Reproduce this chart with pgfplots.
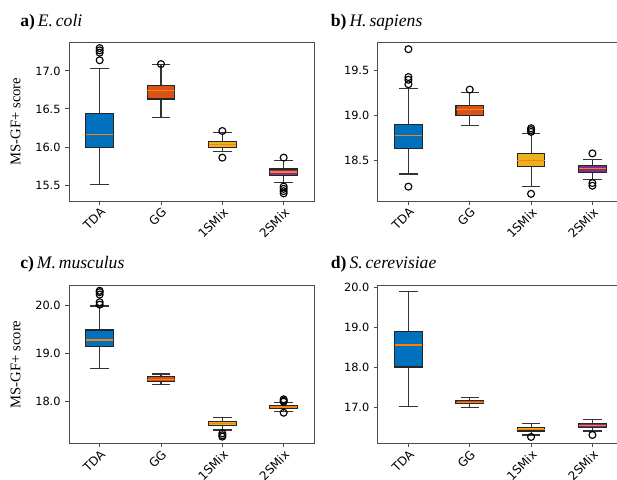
\documentclass[border=0pt]{standalone}
\usepackage{fontspec}
\setmainfont{Liberation Serif}
\newfontfamily\djv{DejaVu Sans}
\usepackage{pgfplots}
\pgfplotsset{compat=1.18}
\usepgfplotslibrary{statistics}

\definecolor{cTDA}{HTML}{0072BD}
\definecolor{cGG}{HTML}{D95319}
\definecolor{cOne}{HTML}{EDB120}
\definecolor{cTwo}{HTML}{7E2F8E}
\definecolor{cMed}{HTML}{FF7F0E}

\pgfplotsset{
  panel/.style={
    anchor=north west, scale only axis,
    width=184pt, height=119.25pt,
    xmin=0.5, xmax=4.5,
    boxplot/draw direction=y,
    xtick={1,2,3,4}, xticklabels={TDA,GG,1SMix,2SMix},
    axis line style={black!70, line width=0.7pt},
    tick style={black!70, line width=0.7pt},
    tick align=outside, tick pos=left,
    major tick length=2.8pt,
    x tick label style={rotate=45, anchor=north east, font=\djv\fontsize{9}{10}\selectfont, inner sep=1pt},
    y tick label style={font=\djv\fontsize{8.5}{10}\selectfont},
    /pgf/number format/assume math mode=true,
    yticklabel style={/pgf/number format/.cd, fixed, fixed zerofill, precision=1},
    every axis y label/.style={at={(axis description cs:0,0.5)}, xshift=-40pt, rotate=90,
      anchor=center, font=\fontsize{11}{13}\selectfont},
  },
  bx/.style={
    solid, draw=black, line width=0.85pt,
    mark=o, mark size=2.6pt, mark options={draw=black, fill=none, line width=0.85pt},
    boxplot/box extend=0.45,
    boxplot/whisker extend=0.3,
    boxplot/every box/.style={draw=black!85, fill=#1, line width=0.85pt},
    boxplot/every median/.style={draw=cMed, line width=1pt},
    boxplot/every whisker/.style={draw=black!80, line width=0.85pt},
  },
}

\begin{document}
\begin{tikzpicture}

% a) E. coli
\begin{axis}[panel, at={(51.75pt,-31.5pt)}, ymin=15.29, ymax=17.38,
  ytick={15.5,16,16.5,17}, ylabel={MS-GF+ score}]
\addplot[bx=cTDA, boxplot prepared={draw position=1, lower whisker=15.51, lower quartile=15.99,
  median=16.16, upper quartile=16.44, upper whisker=17.035}]
  coordinates {(0,17.14) (0,17.24) (0,17.27) (0,17.30)};
\addplot[bx=cGG, boxplot prepared={draw position=2, lower whisker=16.39, lower quartile=16.63,
  median=16.74, upper quartile=16.81, upper whisker=17.08}]
  coordinates {(0,17.09)};
\addplot[bx=cOne, boxplot prepared={draw position=3, lower whisker=15.94, lower quartile=15.99,
  median=16.035, upper quartile=16.075, upper whisker=16.19}]
  coordinates {(0,16.21) (0,15.86)};
\addplot[bx=cTwo, boxplot prepared={draw position=4, lower whisker=15.53, lower quartile=15.62,
  median=15.67, upper quartile=15.71, upper whisker=15.82}]
  coordinates {(0,15.86) (0,15.48) (0,15.45) (0,15.42) (0,15.39)};
\end{axis}

% b) H. sapiens
\begin{axis}[panel, at={(283.3pt,-31.5pt)}, ymin=18.05, ymax=19.82,
  ytick={18.5,19,19.5}]
\addplot[bx=cTDA, boxplot prepared={draw position=1, lower whisker=18.35, lower quartile=18.63,
  median=18.78, upper quartile=18.90, upper whisker=19.30}]
  coordinates {(0,19.74) (0,19.43) (0,19.40) (0,19.35) (0,18.21)};
\addplot[bx=cGG, boxplot prepared={draw position=2, lower whisker=18.89, lower quartile=19.00,
  median=19.07, upper quartile=19.11, upper whisker=19.26}]
  coordinates {(0,19.29)};
\addplot[bx=cOne, boxplot prepared={draw position=3, lower whisker=18.21, lower quartile=18.43,
  median=18.50, upper quartile=18.58, upper whisker=18.80}]
  coordinates {(0,18.86) (0,18.84) (0,18.82) (0,18.13)};
\addplot[bx=cTwo, boxplot prepared={draw position=4, lower whisker=18.29, lower quartile=18.37,
  median=18.41, upper quartile=18.45, upper whisker=18.51}]
  coordinates {(0,18.58) (0,18.25) (0,18.22)};
\end{axis}

% c) M. musculus
\begin{axis}[panel, at={(51.75pt,-214.1pt)}, height=118.4pt, ymin=17.12, ymax=20.42,
  ytick={18,19,20}, ylabel={MS-GF+ score}]
\addplot[bx=cTDA, boxplot prepared={draw position=1, lower whisker=18.69, lower quartile=19.15,
  median=19.28, upper quartile=19.49, upper whisker=19.99}]
  coordinates {(0,20.02) (0,20.07) (0,20.23) (0,20.28) (0,20.31)};
\addplot[bx=cGG, boxplot prepared={draw position=2, lower whisker=18.35, lower quartile=18.42,
  median=18.46, upper quartile=18.51, upper whisker=18.57}]
  coordinates {};
\addplot[bx=cOne, boxplot prepared={draw position=3, lower whisker=17.40, lower quartile=17.49,
  median=17.53, upper quartile=17.57, upper whisker=17.66}]
  coordinates {(0,17.33) (0,17.29) (0,17.26)};
\addplot[bx=cTwo, boxplot prepared={draw position=4, lower whisker=17.79, lower quartile=17.84,
  median=17.88, upper quartile=17.92, upper whisker=17.97}]
  coordinates {(0,18.04) (0,18.01) (0,17.99) (0,17.76)};
\end{axis}

% d) S. cerevisiae
\begin{axis}[panel, at={(283.3pt,-214.1pt)}, height=118.4pt, ymin=16.09, ymax=20.04,
  ytick={17,18,19,20}]
\addplot[bx=cTDA, boxplot prepared={draw position=1, lower whisker=17.02, lower quartile=18.00,
  median=18.55, upper quartile=18.88, upper whisker=19.88}]
  coordinates {};
\addplot[bx=cGG, boxplot prepared={draw position=2, lower whisker=16.99, lower quartile=17.08,
  median=17.12, upper quartile=17.16, upper whisker=17.23}]
  coordinates {};
\addplot[bx=cOne, boxplot prepared={draw position=3, lower whisker=16.30, lower quartile=16.40,
  median=16.44, upper quartile=16.49, upper whisker=16.59}]
  coordinates {(0,16.25)};
\addplot[bx=cTwo, boxplot prepared={draw position=4, lower whisker=16.40, lower quartile=16.48,
  median=16.53, upper quartile=16.59, upper whisker=16.69}]
  coordinates {(0,16.30)};
\end{axis}

\node[anchor=base west, inner sep=0pt, font=\fontsize{13.2}{15}\selectfont] at (15pt,-20.2pt) {\textbf{a)}\,\textit{E.\,coli}};
\node[anchor=base west, inner sep=0pt, font=\fontsize{13.2}{15}\selectfont] at (248pt,-19.6pt) {\textbf{b)}\,\textit{H.\,sapiens}};
\node[anchor=base west, inner sep=0pt, font=\fontsize{13.2}{15}\selectfont] at (15pt,-201.2pt) {\textbf{c)}\,\textit{M.\,musculus}};
\node[anchor=base west, inner sep=0pt, font=\fontsize{13.2}{15}\selectfont] at (248pt,-201.2pt) {\textbf{d)}\,\textit{S.\,cerevisiae}};

\pgfresetboundingbox
\useasboundingbox (0,0) rectangle (462.75pt,-359.25pt);
\end{tikzpicture}
\end{document}
